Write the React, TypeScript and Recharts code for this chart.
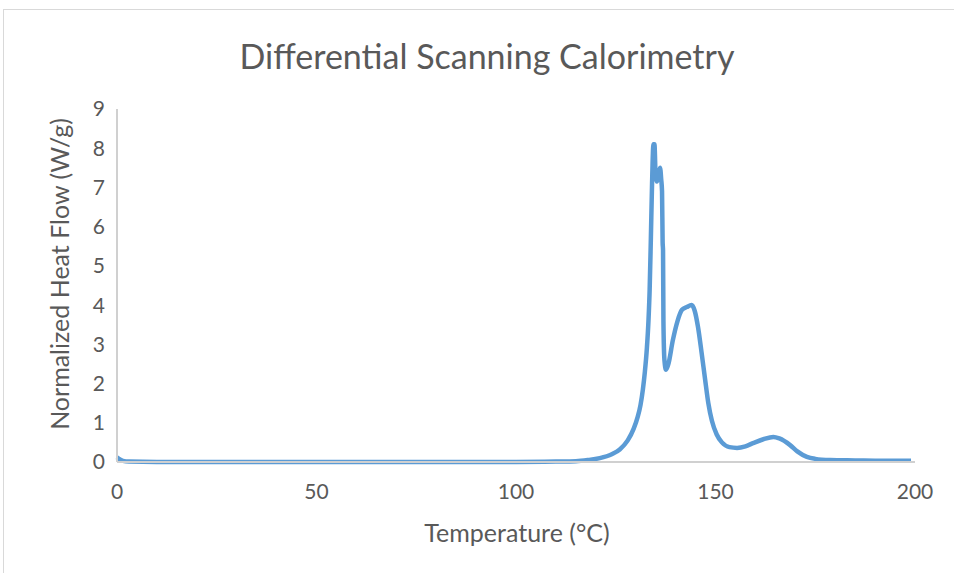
import React from 'react';
import { LineChart, Line, XAxis, YAxis, Label } from 'recharts';

const temperature = [0, 0.5, 1.5, 3, 10, 50, 100, 110, 115, 118, 121, 124, 126, 128, 129.5, 130.5, 131.2, 131.8, 132.3, 132.8, 133.2, 133.5, 133.8, 134.1, 134.45, 134.7, 135.0, 135.3, 135.7, 136.1, 136.4, 136.6, 136.75, 136.85, 136.95, 137.2, 137.6, 138.2, 139.3, 140.5, 141.6, 142.8, 144.0, 144.8, 145.6, 146.5, 147.4, 148.2, 149.1, 150.3, 151.6, 153.5, 155.4, 157.5, 159.4, 162, 164.5, 166, 168.7, 170.5, 172.9, 175, 178.7, 185, 192, 199];
const heatFlow = [0.12, 0.08, 0.03, 0.01, 0.0, 0.0, 0.0, 0.01, 0.02, 0.05, 0.1, 0.2, 0.32, 0.55, 0.85, 1.15, 1.45, 1.85, 2.3, 2.9, 3.6, 4.4, 5.7, 7.1, 8.1, 8.1, 7.3, 7.15, 7.3, 7.5, 7.2, 6.9, 5.6, 5.4, 3.6, 2.6, 2.35, 2.5, 3.1, 3.6, 3.88, 3.95, 4.0, 3.85, 3.45, 2.8, 2.1, 1.5, 1.05, 0.7, 0.5, 0.38, 0.36, 0.4, 0.48, 0.58, 0.64, 0.6, 0.43, 0.27, 0.13, 0.08, 0.05, 0.04, 0.03, 0.03];
const xTicks = [0, 50, 100, 150, 200];
const yTicks = [0, 1, 2, 3, 4, 5, 6, 7, 8, 9];

const data = temperature.map((t, i) => ({ t, v: heatFlow[i] }));

const font = 'Lato, "Open Sans", sans-serif';
const textColor = '#595959';

export default function App() {
  return (
    <div style={{ position: 'absolute', left: 0, top: 0, width: 954, height: 573, overflow: 'hidden', background: '#fff', fontFamily: font }}>
      <div style={{ position: 'absolute', left: 3, top: 9, width: 1000, height: 600, border: '1px solid #d9d9d9', boxSizing: 'border-box' }} />
      <div style={{ position: 'absolute', left: 0, top: 35, width: 974, textAlign: 'center', fontSize: 34, color: textColor, lineHeight: '42px' }}>
        Differential Scanning Calorimetry
      </div>
      <LineChart width={954} height={573} data={data} margin={{ top: 109, left: 57, right: 39, bottom: 61 }} style={{ position: 'absolute', left: 0, top: 0 }}>
        <XAxis
          dataKey="t"
          type="number"
          domain={[0, 200]}
          ticks={xTicks}
          interval={0}
          height={50}
          axisLine={{ stroke: '#d0d0d0', strokeWidth: 2 }}
          tickLine={false}
          tickSize={0}
          tickMargin={22}
          tick={{ fill: textColor, fontSize: 21, fontFamily: font }}
        >
          <Label
            content={() => (
              <text x={517} y={532} textAnchor="middle" dominantBaseline="central" fill={textColor} fontSize={25} fontFamily={font}>
                Temperature (°C)
              </text>
            )}
          />
        </XAxis>
        <YAxis
          type="number"
          domain={[0, 9]}
          ticks={yTicks}
          interval={0}
          width={60}
          axisLine={{ stroke: '#d0d0d0', strokeWidth: 2 }}
          tickLine={false}
          tickSize={0}
          tickMargin={12}
          tick={{ fill: textColor, fontSize: 21, fontFamily: font }}
        >
          <Label
            content={() => (
              <text x={59} y={274} transform="rotate(-90 59 274)" textAnchor="middle" dominantBaseline="central" fill={textColor} fontSize={25} fontFamily={font}>
                Normalized Heat Flow (W/g)
              </text>
            )}
          />
        </YAxis>
        <Line type="monotone" dataKey="v" stroke="#5b9bd5" strokeWidth={4.5} dot={false} isAnimationActive={false} />
      </LineChart>
    </div>
  );
}
